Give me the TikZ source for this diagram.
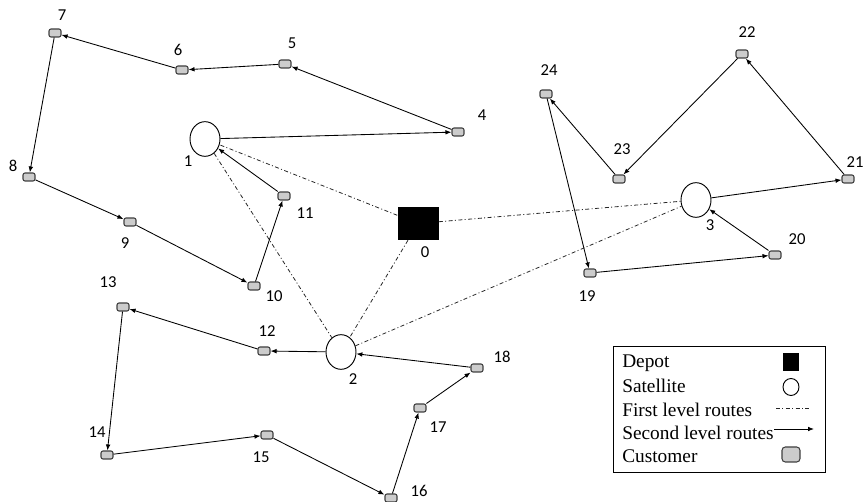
\documentclass[tikz,border=0pt]{standalone}
\usepackage{fontspec}
\setmainfont{Liberation Serif}
\newfontfamily\numfont{Carlito}
\usetikzlibrary{arrows.meta,shapes.geometric}

\begin{document}
\begin{tikzpicture}[
        x=0.75pt, y=-0.75pt,
        customer/.style={
            draw=black!75,
            fill=black!20,
            rounded corners=1.5pt,
            line width=0.8pt,
            minimum width=9pt,
            minimum height=6pt,
            inner sep=0pt
        },
        satellite/.style={
            draw,
            ellipse,
            line width=0.7pt,
            minimum width=22.5pt,
            minimum height=26pt,
            inner sep=0pt
        },
        depot/.style={
            fill=black,
            minimum width=30.75pt,
            minimum height=24.75pt,
            inner sep=0pt
        },
        num/.style={font=\numfont\fontsize{12.5}{14}\selectfont, inner sep=0pt},
        firstroute/.style={
            line width=0.6pt,
            black!85,
            dash pattern=on 3pt off 1.8pt on 0.75pt off 1.8pt
        },
        secondroute/.style={line width=0.65pt, -{Latex[length=4.5pt,width=3.5pt]}},
        legtext/.style={anchor=west, font=\fontsize{14.5}{17}\selectfont, inner sep=0pt}
    ]
        \useasboundingbox (0,0) rectangle (865,502);

        % depot and satellites
        \node[depot] (d0) at (418,223.5) {};
        \node[num] (l0) at (425,252) {0};
        \node[satellite] (s1) at (205,139) {};
        \node[num] (l1) at (188,161) {1};
        \node[satellite] (s2) at (341,352) {};
        \node[num] (l2) at (353,379) {2};
        \node[satellite] (s3) at (696,200) {};
        \node[num] (l3) at (710,225) {3};

        % customers
        \node[customer] (c4) at (458,132) {};
        \node[num] (l4) at (482,115) {4};
        \node[customer] (c5) at (285,64) {};
        \node[num] (l5) at (292,43) {5};
        \node[customer] (c6) at (182,70) {};
        \node[num] (l6) at (178,50) {6};
        \node[customer] (c7) at (55,33) {};
        \node[num] (l7) at (62,15) {7};
        \node[customer] (c8) at (29,177) {};
        \node[num] (l8) at (13,166) {8};
        \node[customer] (c9) at (130,222) {};
        \node[num] (l9) at (125,243) {9};
        \node[customer] (c10) at (254,286) {};
        \node[num] (l10) at (274,296) {10};
        \node[customer] (c11) at (284,196) {};
        \node[num] (l11) at (305,213) {11};
        \node[customer] (c12) at (264,351) {};
        \node[num] (l12) at (267,331) {12};
        \node[customer] (c13) at (123,307) {};
        \node[num] (l13) at (108,282) {13};
        \node[customer] (c14) at (107,455) {};
        \node[num] (l14) at (97,432) {14};
        \node[customer] (c15) at (267,435) {};
        \node[num] (l15) at (261,457) {15};
        \node[customer] (c16) at (391,498) {};
        \node[num] (l16) at (419,491) {16};
        \node[customer] (c17) at (420,408) {};
        \node[num] (l17) at (438,427) {17};
        \node[customer] (c18) at (477,368) {};
        \node[num] (l18) at (502,357) {18};
        \node[customer] (c19) at (590,273) {};
        \node[num] (l19) at (587,296) {19};
        \node[customer] (c20) at (775,255) {};
        \node[num] (l20) at (797,239) {20};
        \node[customer] (c21) at (848,179) {};
        \node[num] (l21) at (855,162) {21};
        \node[customer] (c22) at (742,54) {};
        \node[num] (l22) at (747,32) {22};
        \node[customer] (c23) at (619,179) {};
        \node[num] (l23) at (622,149) {23};
        \node[customer] (c24) at (546,94) {};
        \node[num] (l24) at (549,70) {24};

        % first level
        \draw[firstroute] (d0) -- (s1);
        \draw[firstroute] (d0) -- (s2);
        \draw[firstroute] (d0) -- (s3);
        \draw[firstroute] (s1) -- (s2);
        \draw[firstroute] (s2) -- (s3);

        % second level, satellite 1
        \draw[secondroute] (s1) -- (c4);
        \draw[secondroute] (c4) -- (c5);
        \draw[secondroute] (c5) -- (c6);
        \draw[secondroute] (c6) -- (c7);
        \draw[secondroute] (c7) -- (c8);
        \draw[secondroute] (c8) -- (c9);
        \draw[secondroute] (c9) -- (c10);
        \draw[secondroute] (c10) -- (c11);
        \draw[secondroute] (c11) -- (s1);
        % satellite 2
        \draw[secondroute] (s2) -- (c12);
        \draw[secondroute] (c12) -- (c13);
        \draw[secondroute] (c13) -- (c14);
        \draw[secondroute] (c14) -- (c15);
        \draw[secondroute] (c15) -- (c16);
        \draw[secondroute] (c16) -- (c17);
        \draw[secondroute] (c17) -- (c18);
        \draw[secondroute] (c18) -- (s2);
        % satellite 3
        \draw[secondroute] (s3) -- (c21);
        \draw[secondroute] (c21) -- (c22);
        \draw[secondroute] (c22) -- (c23);
        \draw[secondroute] (c23) -- (c24);
        \draw[secondroute] (c24) -- (c19);
        \draw[secondroute] (c19) -- (c20);
        \draw[secondroute] (c20) -- (s3);

        % legend
        \node[draw, line width=0.7pt, minimum width=159pt, minimum height=94.5pt, inner sep=0pt] (legend) at (719,409) {};
        \node[legtext] (tdepot) at (622,363) {Depot};
        \node[legtext] (tsat) at (622,386) {Satellite};
        \node[legtext] (tfirst) at (622,410) {First level routes};
        \node[legtext] (tsecond) at (622,433) {Second level routes};
        \node[legtext] (tcust) at (622,456) {Customer};
        \node[fill=black, minimum width=12pt, minimum height=13.5pt, inner sep=0pt] (kdepot) at (791,362) {};
        \node[draw, ellipse, line width=0.7pt, minimum width=12pt, minimum height=12.75pt, inner sep=0pt] (ksat) at (791,387) {};
        \coordinate (kfirsta) at (776,408);
        \coordinate (kfirstb) at (810,408);
        \draw[firstroute] (kfirsta) -- (kfirstb);
        \coordinate (kseconda) at (774,429);
        \coordinate (ksecondb) at (814,429);
        \draw[secondroute] (kseconda) -- (ksecondb);
        \node[customer, rounded corners=2.5pt, minimum width=13.5pt, minimum height=11.25pt] (kcust) at (791,454.5) {};
    \end{tikzpicture}
\end{document}
